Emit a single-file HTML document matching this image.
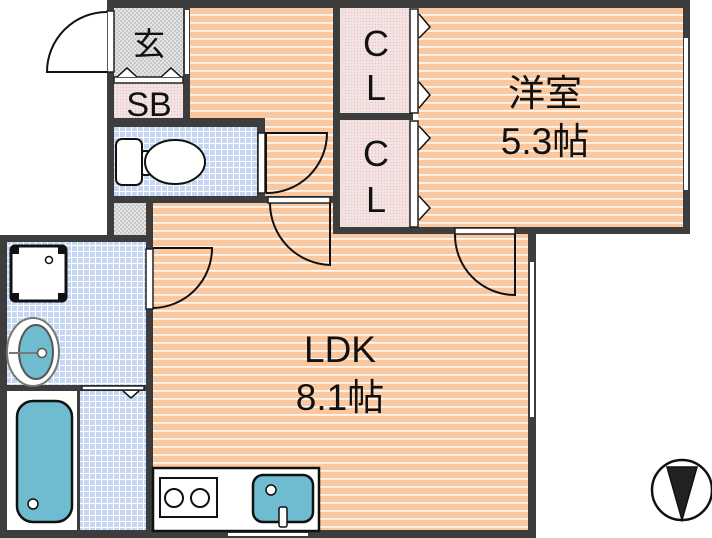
<!DOCTYPE html>
<html><head><meta charset="utf-8"><style>body{margin:0;background:#fff}svg{display:block}</style></head><body>
<svg width="712" height="538" viewBox="0 0 712 538" xmlns="http://www.w3.org/2000/svg">
<defs>
<pattern id="wood" width="8" height="8" patternUnits="userSpaceOnUse"><rect width="8" height="8" fill="#f9c8a0"/><rect y="6" width="8" height="1.8" fill="#fff6ee"/></pattern>
<pattern id="tile" width="6" height="6" patternUnits="userSpaceOnUse"><rect width="6" height="6" fill="#c6d7f4"/><rect x="5" width="1" height="6" fill="#fff"/><rect y="5" width="6" height="1" fill="#fff"/></pattern>
<pattern id="chk" width="4" height="4" patternUnits="userSpaceOnUse"><rect width="4" height="4" fill="#e4e4e4"/><rect width="2" height="2" fill="#c8c8c8"/><rect x="2" y="2" width="2" height="2" fill="#c8c8c8"/></pattern>
<pattern id="pink" width="3" height="3" patternUnits="userSpaceOnUse"><rect width="3" height="3" fill="#f4e2e2"/><rect width="1" height="1" fill="#e0c4c4"/></pattern>
</defs>
<rect x="114" y="8" width="220" height="230" fill="url(#wood)"/>
<rect x="150" y="200" width="382" height="332" fill="url(#wood)"/>
<rect x="418" y="8" width="268" height="222" fill="url(#wood)"/>
<rect x="114" y="8" width="70" height="70" fill="url(#chk)"/>
<rect x="114" y="83" width="70" height="36" fill="url(#pink)"/>
<rect x="114" y="126" width="145" height="72" fill="url(#tile)"/>
<rect x="114" y="203" width="34" height="32" fill="url(#chk)"/>
<rect x="340" y="8" width="72" height="220" fill="url(#pink)"/>
<rect x="7" y="242" width="141" height="290" fill="url(#tile)"/>
<rect x="7" y="391" width="72" height="140" fill="#fff"/>
<g fill="#3d3d3d">
<rect x="107" y="0" width="583" height="8"/>
<rect x="107" y="0" width="7" height="238"/>
<rect x="110" y="118" width="155" height="9"/>
<rect x="110" y="196" width="225" height="7"/>
<rect x="183" y="8" width="7" height="112"/>
<rect x="257" y="120" width="8" height="80"/>
<rect x="333" y="0" width="7" height="234"/>
<rect x="333" y="113" width="80" height="7"/>
<rect x="333" y="227" width="357" height="7"/>
<rect x="683" y="0" width="7" height="234"/>
<rect x="146" y="203" width="7" height="335"/>
<rect x="0" y="235" width="150" height="7"/>
<rect x="0" y="235" width="7" height="303"/>
<rect x="0" y="530" width="536" height="8"/>
<rect x="528" y="234" width="8" height="304"/>
<rect x="7" y="385" width="141" height="6"/>
<rect x="77" y="391" width="3" height="140"/>
</g>
<g fill="#fff" stroke="#222" stroke-width="1.5">
<rect x="107" y="11" width="7" height="61"/>
<rect x="114" y="77" width="69" height="6"/>
<rect x="258" y="133" width="7" height="60"/>
<rect x="268" y="197" width="62" height="6"/>
<rect x="146" y="249" width="7" height="60"/>
<rect x="455" y="228" width="60" height="6"/>
<rect x="410" y="9" width="8" height="104"/>
<rect x="410" y="121" width="8" height="106"/>
<rect x="82" y="386" width="62" height="4"/>
</g>
<rect x="684" y="38" width="4" height="152" fill="#fff"/>
<rect x="530" y="262" width="4" height="155" fill="#fff"/>
<rect x="228" y="533" width="80" height="3" fill="#fff"/>
<rect x="185" y="10" width="4" height="64" fill="#fff"/>
<g fill="#fff" stroke="#111" stroke-width="2">
<path d="M107,72 L47,72 A60,60 0 0 1 107,12"/>
</g>
<g fill="none" stroke="#111" stroke-width="2">
<path d="M266,193 L266,133 L327,133 A60,60 0 0 1 266,193" fill="url(#wood)"/>
<path d="M330,203 L330,265 A62,62 0 0 1 270,203"/>
<path d="M153,308 A60,60 0 0 0 212,248 L153,248"/>
<path d="M515,234 L515,295 A60,60 0 0 1 455,234"/>
</g>
<g fill="#fff" stroke="#111" stroke-width="1.5">
<path d="M117,77 L127,68 L137,77"/><path d="M161,77 L171,68 L181,77"/>
<path d="M419,14 L430,27 L419,38"/><path d="M419,82 L430,95 L419,108"/>
<path d="M419,126 L430,138 L419,150"/><path d="M419,196 L430,208 L419,220"/>
<path d="M123,391 L131,398 L139,391"/>
</g>
<g fill="#fff" stroke="#111" stroke-width="2">
<rect x="116" y="139" width="26" height="46" rx="6"/>
<rect x="142" y="151" width="8" height="24" rx="2"/>
<ellipse cx="175" cy="162" rx="30" ry="22"/>
</g>
<rect x="11" y="246" width="55" height="55" rx="4" fill="#fff" stroke="#111" stroke-width="3"/>
<g fill="#111"><rect x="11" y="246" width="8" height="8"/><rect x="58" y="246" width="8" height="8"/><rect x="11" y="293" width="8" height="8"/><rect x="58" y="293" width="8" height="8"/></g>
<circle cx="49" cy="260" r="3.5" fill="#fff" stroke="#111" stroke-width="1.5"/>
<ellipse cx="33" cy="352" rx="26" ry="34" fill="#fff" stroke="#777" stroke-width="2"/>
<ellipse cx="36" cy="352" rx="17" ry="27" fill="#6fbcd0" stroke="#555" stroke-width="2"/>
<line x1="9" y1="353" x2="40" y2="353" stroke="#777" stroke-width="2"/>
<circle cx="42" cy="353" r="4.5" fill="#fff" stroke="#555" stroke-width="1.5"/>
<rect x="17" y="401" width="55" height="121" rx="16" fill="#6fbcd0" stroke="#111" stroke-width="2.5"/>
<circle cx="33" cy="504" r="5" fill="#fff" stroke="#111" stroke-width="1.5"/>
<rect x="153" y="468" width="166" height="63" fill="#fff" stroke="#111" stroke-width="2.5"/>
<rect x="160" y="478" width="57" height="39" fill="#fff" stroke="#111" stroke-width="2"/>
<circle cx="174" cy="498" r="9" fill="#fff" stroke="#111" stroke-width="2"/>
<circle cx="200" cy="498" r="9" fill="#fff" stroke="#111" stroke-width="2"/>
<rect x="253" y="475" width="60" height="47" rx="10" fill="#6fbcd0" stroke="#111" stroke-width="2.5"/>
<circle cx="271" cy="490" r="5" fill="#fff" stroke="#111" stroke-width="1.5"/>
<rect x="279" y="507" width="8" height="20" rx="2" fill="#fff" stroke="#111" stroke-width="1.5"/>
<g font-family="Liberation Sans, Noto Sans CJK JP, sans-serif" fill="#111" text-anchor="middle">
<text x="149" y="55" font-size="32" font-family="Noto Sans CJK JP, sans-serif">玄</text>
<text x="149" y="116" font-size="34">SB</text>
<text x="376" y="56" font-size="36">C</text>
<text x="376" y="100" font-size="36">L</text>
<text x="376" y="166" font-size="36">C</text>
<text x="376" y="212" font-size="36">L</text>
<text x="545" y="106" font-size="37">洋室</text>
<text x="545" y="154" font-size="37">5.3帖</text>
<text x="340" y="362" font-size="37">LDK</text>
<text x="340" y="410" font-size="37">8.1帖</text>
</g>
<circle cx="682" cy="490" r="30" fill="#fff" stroke="#111" stroke-width="2.5"/>
<path d="M667,467 L697,467 L682,520 Z" fill="#222" stroke="#111" stroke-width="1.5"/>
</svg>
</body></html>
